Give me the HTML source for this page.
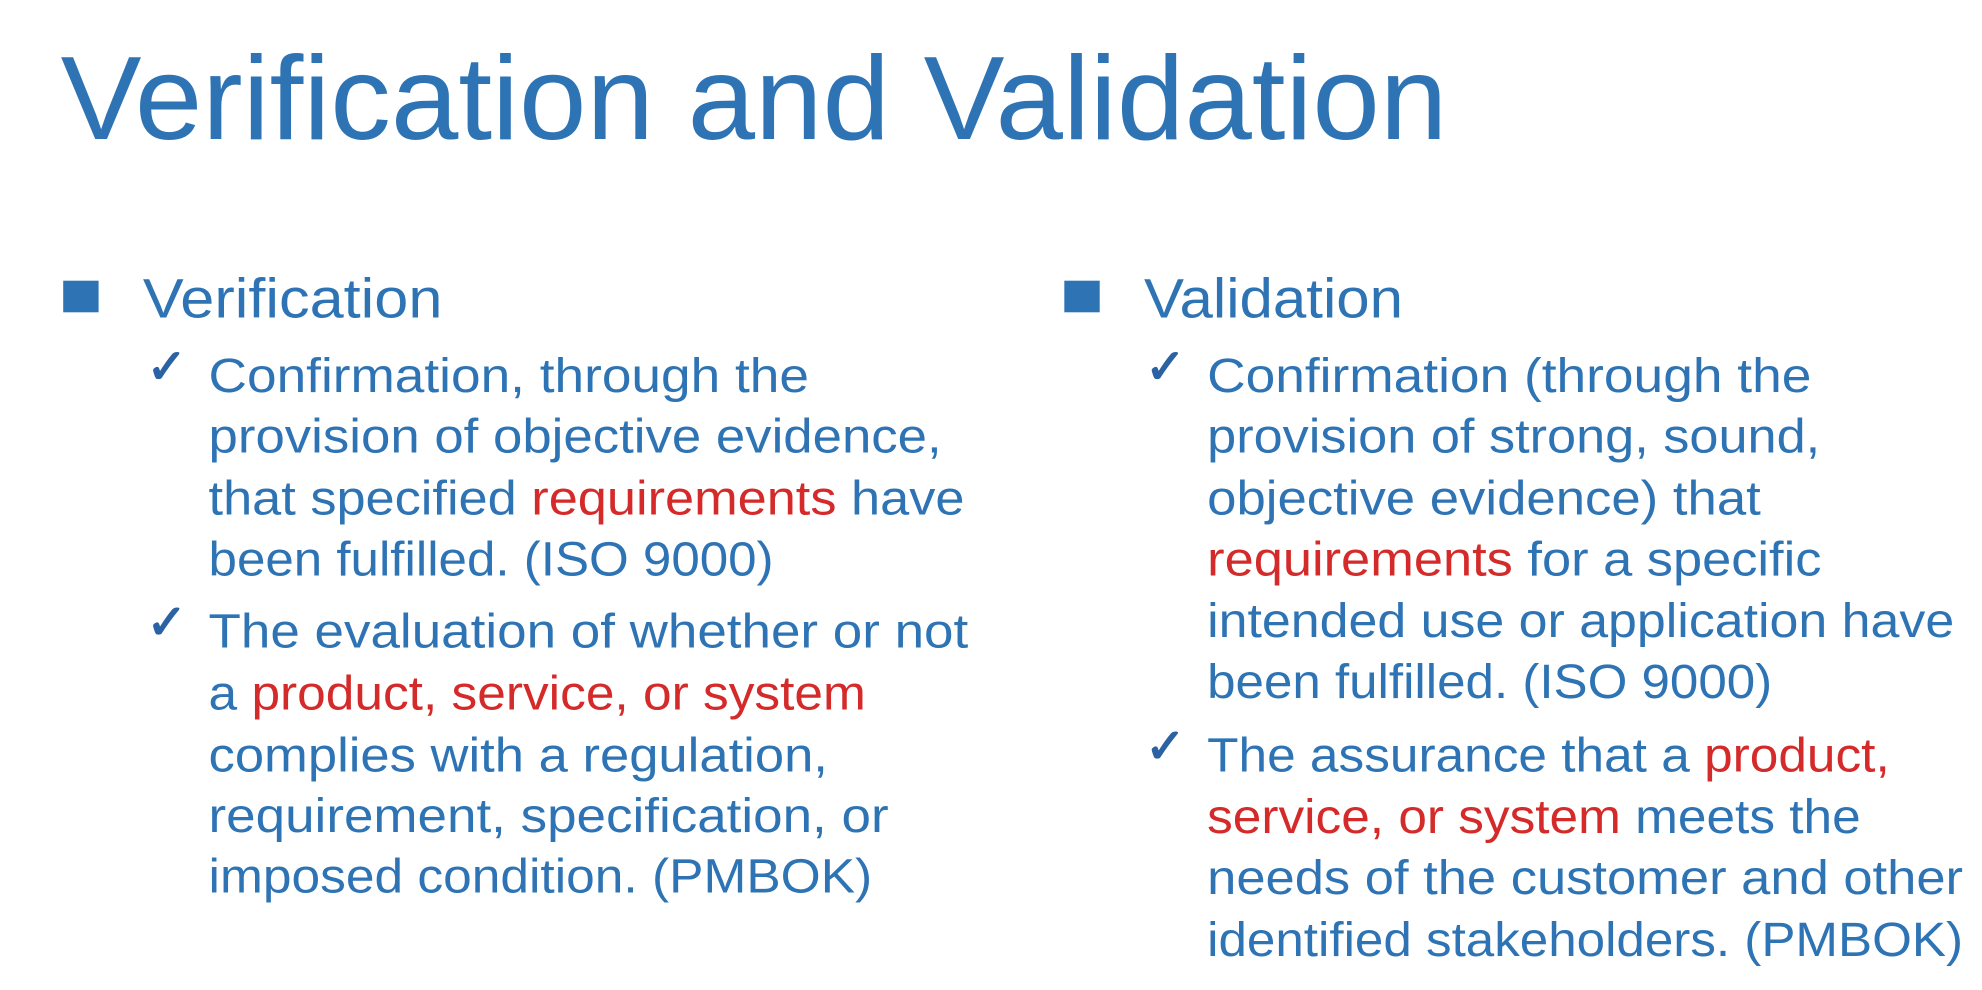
<!DOCTYPE html>
<html><head><meta charset="utf-8"><style>
html,body{margin:0;padding:0;background:#fff;width:1982px;height:990px;overflow:hidden}
svg{display:block}
text{font-family:"Liberation Sans",sans-serif;fill:#2e74b5}
.r{fill:#d42a2a}
.ck{fill:#2b62a3;font-weight:bold}
</style></head><body>
<svg width="1982" height="990" viewBox="0 0 1568 783" preserveAspectRatio="none">
<text x="48" y="110" font-size="94" textLength="1097" lengthAdjust="spacingAndGlyphs">Verification and Validation</text>

<rect x="50" y="222" width="28" height="25" fill="#2e74b5"/>
<text x="113" y="251" font-size="44" textLength="237" lengthAdjust="spacingAndGlyphs">Verification</text>
<text class="ck" x="116" y="303" font-size="38">✓</text>
<text x="165" y="310" font-size="38" textLength="475" lengthAdjust="spacingAndGlyphs">Confirmation, through the</text>
<text x="165" y="358" font-size="38" textLength="580" lengthAdjust="spacingAndGlyphs">provision of objective evidence,</text>
<text x="165" y="407" font-size="38" textLength="598" lengthAdjust="spacingAndGlyphs">that specified <tspan class="r">requirements</tspan> have</text>
<text x="165" y="455" font-size="38" textLength="447" lengthAdjust="spacingAndGlyphs">been fulfilled. (ISO 9000)</text>
<text class="ck" x="116" y="505" font-size="38">✓</text>
<text x="165" y="512" font-size="38" textLength="601" lengthAdjust="spacingAndGlyphs">The evaluation of whether or not</text>
<text x="165" y="561" font-size="38" textLength="520" lengthAdjust="spacingAndGlyphs">a <tspan class="r">product, service, or system</tspan></text>
<text x="165" y="610" font-size="38" textLength="490" lengthAdjust="spacingAndGlyphs">complies with a regulation,</text>
<text x="165" y="658" font-size="38" textLength="538" lengthAdjust="spacingAndGlyphs">requirement, specification, or</text>
<text x="165" y="706" font-size="38" textLength="525" lengthAdjust="spacingAndGlyphs">imposed condition. (PMBOK)</text>

<rect x="842" y="222" width="28" height="25" fill="#2e74b5"/>
<text x="905" y="251" font-size="44" textLength="205" lengthAdjust="spacingAndGlyphs">Validation</text>
<text class="ck" x="906" y="303" font-size="38">✓</text>
<text x="955" y="310" font-size="38" textLength="478" lengthAdjust="spacingAndGlyphs">Confirmation (through the</text>
<text x="955" y="358" font-size="38" textLength="485" lengthAdjust="spacingAndGlyphs">provision of strong, sound,</text>
<text x="955" y="407" font-size="38" textLength="438" lengthAdjust="spacingAndGlyphs">objective evidence) that</text>
<text x="955" y="455" font-size="38" textLength="486" lengthAdjust="spacingAndGlyphs"><tspan class="r">requirements</tspan> for a specific</text>
<text x="955" y="504" font-size="38" textLength="591" lengthAdjust="spacingAndGlyphs">intended use or application have</text>
<text x="955" y="552" font-size="38" textLength="447" lengthAdjust="spacingAndGlyphs">been fulfilled. (ISO 9000)</text>
<text class="ck" x="906" y="603" font-size="38">✓</text>
<text x="955" y="610" font-size="38" textLength="540" lengthAdjust="spacingAndGlyphs">The assurance that a <tspan class="r">product,</tspan></text>
<text x="955" y="659" font-size="38" textLength="517" lengthAdjust="spacingAndGlyphs"><tspan class="r">service, or system</tspan> meets the</text>
<text x="955" y="707" font-size="38" textLength="598" lengthAdjust="spacingAndGlyphs">needs of the customer and other</text>
<text x="955" y="756" font-size="38" textLength="598" lengthAdjust="spacingAndGlyphs">identified stakeholders. (PMBOK)</text>
</svg>
</body></html>
